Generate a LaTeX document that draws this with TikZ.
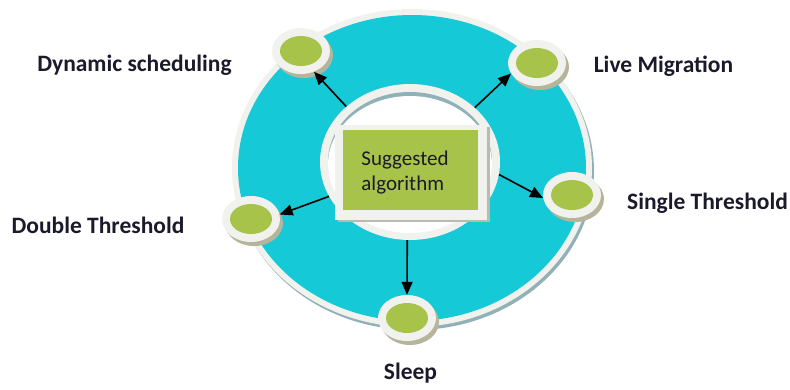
\documentclass[tikz,border=0pt]{standalone}
\usepackage{fontspec}
\setmainfont{Carlito}
\usetikzlibrary{shapes.geometric,arrows.meta}
\definecolor{ringteal}{HTML}{16C9D6}
\definecolor{leaf}{HTML}{A7C34A}
\definecolor{rim}{HTML}{F1F1EE}
\definecolor{ringshade}{HTML}{8FB1B7}
\definecolor{dotshade}{HTML}{B7B49C}
\definecolor{boxshade}{HTML}{B9BBB2}
\definecolor{ink}{HTML}{1B1A2B}
\tikzset{
  dotring/.style={ellipse, inner sep=0pt, minimum width=58pt, minimum height=46pt, fill=rim},
  dotcore/.style={ellipse, inner sep=0pt, minimum width=42pt, minimum height=30pt, fill=leaf},
  tag/.style={font=\bfseries\fontsize{23.5}{28}\selectfont, text=ink, inner sep=0pt, anchor=base},
  arr/.style={line width=1.6pt, -{Triangle[length=13pt,width=11pt]}, black},
}
\begin{document}
\begin{tikzpicture}[x=1pt,y=-1pt]
\useasboundingbox (0,0) rectangle (790,389);

% outer ring with its shadow and white rim
\fill[ringshade] (414,171) ellipse [x radius=180, y radius=159];
\fill[rim] (412,168) ellipse [x radius=180, y radius=159];
\fill[ringteal] (412,168) ellipse [x radius=174, y radius=153];

% inner hole with an inset shadow along the top
\node[ellipse, inner sep=0pt, minimum width=180pt, minimum height=156pt, fill=rim] (hub) at (410,162) {};
\fill[ringshade] (410,162) ellipse [x radius=82, y radius=70];
\fill[white] (410,164.5) ellipse [x radius=82, y radius=68.5];

% central box
\fill[boxshade] (338,127) rectangle (490,222);
\node[rectangle, inner sep=0pt, minimum width=152pt, minimum height=95pt, fill=rim] (frame) at (411,172.5) {};
\node[rectangle, inner sep=0pt, minimum width=135pt, minimum height=80pt, fill=leaf] (algo) at (410.5,170) {};
\node[align=left, text=ink, inner sep=0pt, font=\fontsize{21}{25}\selectfont] (algo-text) at (405,173) {Suggested\\algorithm};

% satellite dots
\foreach \n/\x/\y in {dyn/301/51, live/537/63, single/572/195, double/251/219, sleep/407/318} {
  \fill[dotshade] (\x+3,\y+4) ellipse [x radius=29, y radius=23];
  \node[dotring] (\n) at (\x,\y) {};
  \node[dotcore] (\n-core) at (\x,\y) {};
}

% arrows
\draw[arr] (hub.139) -- (dyn.-58);
\draw[arr] (hub.40) -- (live.202);
\draw[arr] (hub.-8) -- (single.186);
\draw[arr] (hub.203) -- (double.9);
\draw[arr] (hub.268) -- (sleep.north);

% labels
\node[tag] (t-dyn) at (134.5,71) {Dynamic scheduling};
\node[tag] (t-live) at (663.5,72) {Live Migration};
\node[tag] (t-single) at (707.5,209) {Single Threshold};
\node[tag] (t-double) at (98,233) {Double Threshold};
\node[tag] (t-sleep) at (410.5,379) {Sleep};
\end{tikzpicture}
\end{document}
